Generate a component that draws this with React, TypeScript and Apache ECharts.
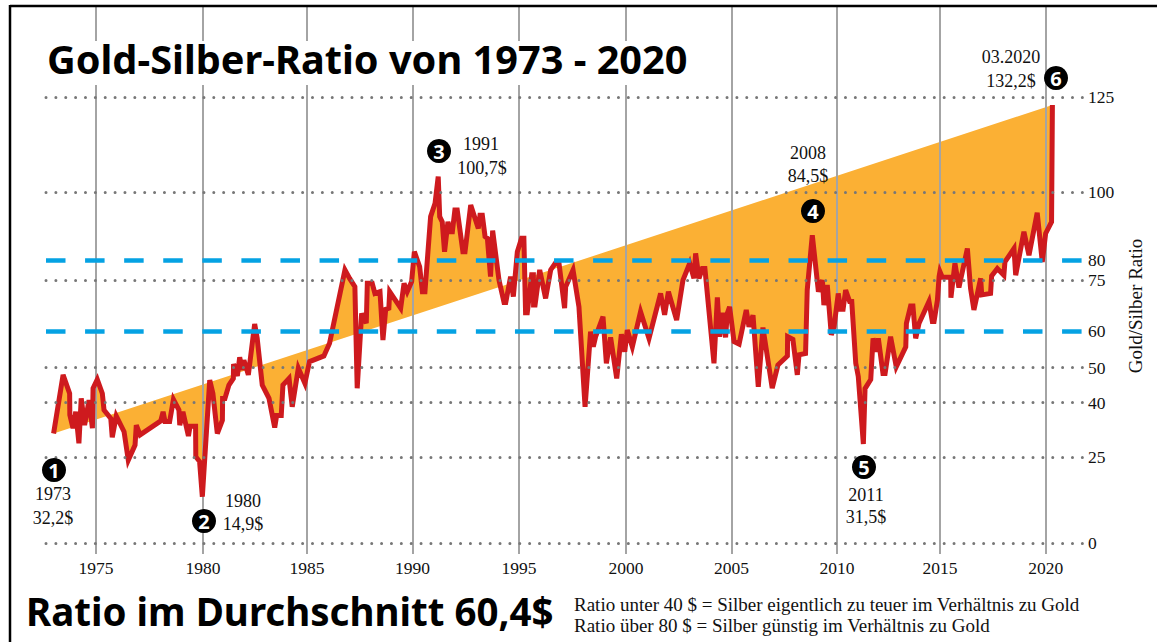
import React, { useEffect, useRef } from "react";
import * as echarts from "echarts";

const years = [
  1972.99, 1973.44, 1973.75, 1973.76, 1973.91, 1974.04, 1974.19, 1974.3, 1974.46, 1974.67, 1974.83, 1974.86, 1975.06, 1975.3, 1975.38, 1975.7, 1975.77, 1975.96, 1976.33, 1976.53, 1976.85, 1976.91, 1977.09, 1978.07, 1978.18, 1978.27, 1978.49, 1978.67, 1978.93, 1978.97, 1979.12, 1979.38, 1979.46, 1979.72, 1979.73, 1979.91, 1980.04,
  1980.39, 1980.54, 1980.75, 1980.99, 1981.0, 1981.11, 1981.3, 1981.51, 1981.52, 1981.7, 1981.81, 1981.93, 1982.01, 1982.22, 1982.52, 1982.64, 1982.88, 1983.2, 1983.47, 1983.56, 1983.78, 1983.86, 1984.15, 1984.3, 1984.59, 1984.9, 1985.12, 1985.8, 1986.07, 1986.8, 1987.02, 1987.27, 1987.38, 1987.59, 1987.81, 1987.86, 1988.09, 1988.22, 1988.46, 1988.6, 1988.73, 1988.88, 1988.92, 1989.44, 1989.6, 1989.75,
  1989.96, 1990.09, 1990.34, 1990.47, 1990.59, 1990.86, 1991.07, 1991.22, 1991.29, 1991.41, 1991.52, 1991.68, 1991.81, 1991.89, 1992.01, 1992.12, 1992.39, 1992.49, 1992.76, 1993.12, 1993.2, 1993.31, 1993.44, 1993.55, 1993.7, 1993.8, 1994.1, 1994.34, 1994.42, 1994.65, 1994.78, 1994.97, 1995.17, 1995.28, 1995.36, 1995.44, 1995.65, 1995.73, 1995.74, 1995.81, 1996.03, 1996.31, 1996.55, 1996.79, 1996.94, 1997.21, 1997.26, 1997.61, 1997.89, 1998.18, 1998.44, 1998.57, 1998.68, 1999.03, 1999.19,
  1999.39, 1999.68, 1999.9, 2000.06, 2000.18, 2000.42, 2000.81, 2001.21, 2001.76, 2001.95, 2002.13, 2002.52, 2002.82, 2003.14, 2003.34, 2003.42, 2003.58, 2003.74, 2003.86, 2004.29, 2004.45, 2004.56, 2004.69, 2004.84, 2004.92, 2005.03, 2005.24, 2005.48, 2005.82, 2005.95, 2006.14, 2006.39, 2006.61, 2007.05, 2007.32, 2007.77, 2007.78, 2008.03, 2008.24, 2008.32, 2008.63, 2008.71, 2008.95,
  2009.24, 2009.43, 2009.5, 2009.66, 2009.85, 2009.98, 2010.18, 2010.29, 2010.41, 2010.53, 2010.72, 2010.82, 2011.01, 2011.13, 2011.37, 2011.45, 2011.72, 2011.83, 2011.99, 2012.08, 2012.3, 2012.4, 2012.66, 2012.93, 2013.38, 2013.41, 2013.61, 2013.72, 2013.85, 2014.01, 2014.48, 2014.64, 2014.72, 2014.88, 2014.96,
  2015.0, 2015.11, 2015.51, 2015.52, 2015.71, 2015.9, 2016.3, 2016.45, 2016.61, 2016.93, 2016.98, 2017.4, 2017.45, 2017.72, 2018.03, 2018.08, 2018.51, 2018.59, 2018.98, 2019.22, 2019.61, 2019.85, 2020.01, 2020.29, 2020.33,
];

const ratios = [
  31.2, 47.9, 42.6, 36.5, 32.7, 37.4, 28.4, 41.2, 33.6, 40.7, 32.7, 44.1, 46.6, 42.6, 37.9, 35.5, 30.1, 36.2, 31.7, 23.6, 27.9, 33.6, 30.8, 34.8, 37.4, 34.6, 34.6, 40.9, 37.9, 33.6, 37.4, 30.5, 33.3, 33.3, 24.6, 23.2, 13.2,
  46.4, 42.6, 31.2, 35.0, 41.2, 41.2, 45.0, 46.9, 51.0, 47.6, 52.9, 49.3, 52.1, 47.9, 62.4, 58.3, 45.0, 41.2, 32.9, 36.3, 36.3, 45.0, 46.9, 38.8, 49.8, 45.5, 51.7, 53.3, 56.9, 77.8, 75.4, 73.0, 44.1, 65.4, 62.6, 74.0, 74.0, 71.1, 71.6, 57.8, 66.6, 66.9, 71.6, 66.9, 74.0, 71.6,
  74.5, 83.0, 78.7, 71.6, 71.6, 93.0, 96.8, 104.4, 93.0, 91.5, 83.0, 91.5, 88.7, 88.7, 94.9, 94.9, 83.0, 83.0, 96.3, 89.6, 93.4, 93.4, 87.3, 86.8, 75.9, 89.0, 74.9, 68.5, 68.5, 75.9, 70.2, 83.0, 86.8, 86.8, 65.6, 65.6, 76.4, 76.4, 67.8, 67.8, 77.8, 69.7, 77.8, 79.9, 79.9, 66.9, 73.0, 77.8, 67.3, 38.8, 60.2, 55.9, 58.8, 64.5, 51.2,
  58.6, 46.9, 59.5, 54.5, 60.7, 55.9, 65.9, 58.3, 71.1, 65.0, 71.6, 63.5, 74.9, 79.7, 75.4, 82.5, 75.4, 78.2, 78.2, 51.2, 70.0, 58.8, 65.6, 58.6, 65.4, 67.3, 57.4, 56.7, 66.4, 61.6, 64.9, 44.5, 61.4, 44.1, 50.7, 53.3, 58.8, 58.0, 47.9, 53.6, 54.0, 72.1, 87.7,
  71.6, 74.9, 67.8, 73.5, 59.3, 61.6, 71.1, 66.6, 66.6, 72.1, 68.8, 68.8, 51.2, 47.4, 28.2, 44.0, 46.6, 58.3, 54.5, 58.3, 48.3, 48.3, 58.8, 50.2, 55.9, 62.6, 67.5, 67.5, 58.3, 62.6, 68.8, 63.1, 63.1, 69.2, 75.9,
  77.3, 75.7, 75.7, 69.9, 79.7, 72.8, 83.9, 72.6, 66.4, 75.4, 70.7, 71.1, 76.1, 78.2, 76.3, 80.1, 83.9, 76.3, 88.7, 82.0, 94.1, 80.1, 88.2, 91.5, 124.8,
];

// The reference's axes are hand-spaced: where each tick sits, in plotted units.
const xTickLabels = ["1975", "1980", "1985", "1990", "1995", "2000", "2005", "2010", "2015", "2020"];
const xTickPositions = [1975, 1980.07, 1985, 1990, 1995.05, 2000.12, 2005.12, 2010.12, 2015, 2020.02];
const yTickLabels = ["0", "25", "40", "50", "60", "75", "80", "100", "125"];
const yTickPositions = [0, 24.5, 40, 50, 60.3, 75, 80.7, 100, 127];
const dottedPositions = [0, 24.5, 40, 50, 75, 100, 127];
const dashedPositions = [60.3, 80.7];

const title = "Gold-Silber-Ratio von 1973 - 2020";
const subtitle = "Ratio im Durchschnitt 60,4$";
const note1 = "Ratio unter 40 $ = Silber eigentlich zu teuer im Verhältnis zu Gold";
const note2 = "Ratio über 80 $ = Silber günstig im Verhältnis zu Gold";

const SERIF = '"Liberation Serif", serif';
const SANS = '"Noto Sans", sans-serif';

const nearestLabel = (positions: number[], labels: string[], v: number) => {
  let best = 0;
  positions.forEach((p, i) => {
    if (Math.abs(p - v) < Math.abs(positions[best] - v)) best = i;
  });
  return labels[best];
};

const badge = (x: number, y: number, n: string) => [
  { type: "circle", z: 100, shape: { cx: x, cy: y, r: 12 }, style: { fill: "#000" } },
  {
    type: "text", z: 101, x, y,
    style: { text: n, fill: "#fff", font: `700 20px ${SANS}`, align: "center", verticalAlign: "middle" },
  },
];

const note = (x: number, y: number, t: string, align = "center", size = 18) => ({
  type: "text", z: 100, x, y,
  style: { text: t, fill: "#111", font: `${size}px ${SERIF}`, align, verticalAlign: "middle" },
});

export default function App() {
  const ref = useRef<HTMLDivElement>(null);
  useEffect(() => {
    const chart = echarts.init(ref.current!, null, { renderer: "svg" });
    const points = years.map((y, i) => [y, ratios[i]]);
    const mlBase = { silent: true, symbol: "none", label: { show: false }, animation: false };
    chart.setOption({
      animation: false,
      backgroundColor: "#fff",
      grid: { left: 46, right: 70, top: 6, bottom: 88 },
      xAxis: {
        type: "value",
        min: 1972.63,
        max: 2021.97,
        splitLine: { show: false },
        axisLine: { show: false },
        axisTick: { show: false },
        axisLabel: {
          customValues: xTickPositions,
          formatter: (v: number) => nearestLabel(xTickPositions, xTickLabels, v),
          margin: 5,
          color: "#111",
          fontFamily: SERIF,
          fontSize: 17.5,
        },
      },
      yAxis: {
        type: "value",
        position: "right",
        min: -3.13,
        max: 153,
        splitLine: { show: false },
        axisLine: { show: false },
        axisTick: { show: false },
        axisLabel: {
          customValues: yTickPositions,
          formatter: (v: number) => nearestLabel(yTickPositions, yTickLabels, v),
          margin: 1,
          color: "#111",
          fontFamily: SERIF,
          fontSize: 17.5,
        },
      },
      series: [
        {
          type: "custom",
          z: 1,
          silent: true,
          clip: false,
          data: [points[0]],
          renderItem: (_p: any, api: any) => ({
            type: "polygon",
            shape: { points: points.map((p) => api.coord(p)) },
            style: { fill: "#FBB034" },
          }),
        },
        {
          type: "line",
          z: 2,
          data: [],
          markLine: {
            ...mlBase,
            z: 2,
            data: xTickPositions.map((p) => ({ xAxis: p })),
            lineStyle: { color: "#a4a4a4", width: 2, type: "solid" },
          },
        },
        {
          type: "line",
          z: 3,
          data: points,
          showSymbol: false,
          symbol: "none",
          silent: true,
          clip: false,
          lineStyle: { color: "#CE1A1E", width: 5, join: "miter", miterLimit: 4 },
        },
        {
          type: "line",
          z: 4,
          data: [],
          markLine: {
            ...mlBase,
            z: 4,
            data: dottedPositions.map((p) => ({ yAxis: p })),
            lineStyle: { color: "#777", width: 3, type: [0.01, 9.86], cap: "round" },
          },
        },
        {
          type: "line",
          z: 4,
          data: [],
          markLine: {
            ...mlBase,
            z: 4,
            data: dashedPositions.map((p) => ({ yAxis: p })),
            lineStyle: { color: "#05A2E3", width: 4.5, type: [19.5, 19.58] },
          },
        },
      ],
      graphic: [
        { type: "rect", z: 80, shape: { x: 40, y: 41, width: 652, height: 44 }, style: { fill: "#fff" } },
        { type: "line", z: 90, shape: { x1: 10, y1: 6, x2: 1157, y2: 6 }, style: { stroke: "#000", lineWidth: 2.5 } },
        { type: "line", z: 90, shape: { x1: 10, y1: 5, x2: 10, y2: 642 }, style: { stroke: "#000", lineWidth: 2.5 } },
        { type: "text", z: 100, x: 47, y: 59, style: { text: title, fill: "#000", font: `700 39.7px ${SANS}`, verticalAlign: "middle" } },
        { type: "text", z: 100, x: 26, y: 611, style: { text: subtitle, fill: "#000", font: `700 38.5px ${SANS}`, verticalAlign: "middle" } },
        note(574, 604, note1, "left", 19),
        note(574, 625, note2, "left", 19),
        ...badge(54, 470, "1"),
        note(53, 494, "1973"),
        note(53, 518, "32,2$"),
        ...badge(204, 521, "2"),
        note(243, 501, "1980"),
        note(243, 524, "14,9$"),
        ...badge(439, 151, "3"),
        note(481, 144, "1991"),
        note(482, 168, "100,7$"),
        ...badge(813, 211, "4"),
        note(808, 153, "2008"),
        note(808, 176, "84,5$"),
        ...badge(864, 467, "5"),
        note(866, 495, "2011"),
        note(866, 517, "31,5$"),
        ...badge(1056, 78, "6"),
        note(1011, 57, "03.2020"),
        note(1011, 81, "132,2$"),
        {
          type: "text", z: 100, x: 1135, y: 306, rotation: Math.PI / 2,
          style: { text: "Gold/Silber Ratio", fill: "#111", font: `19px ${SERIF}`, align: "center", verticalAlign: "middle" },
        },
      ],
    });
    return () => chart.dispose();
  }, []);
  return <div ref={ref} style={{ position: "fixed", left: 0, top: 0, width: 1157, height: 642 }} />;
}
